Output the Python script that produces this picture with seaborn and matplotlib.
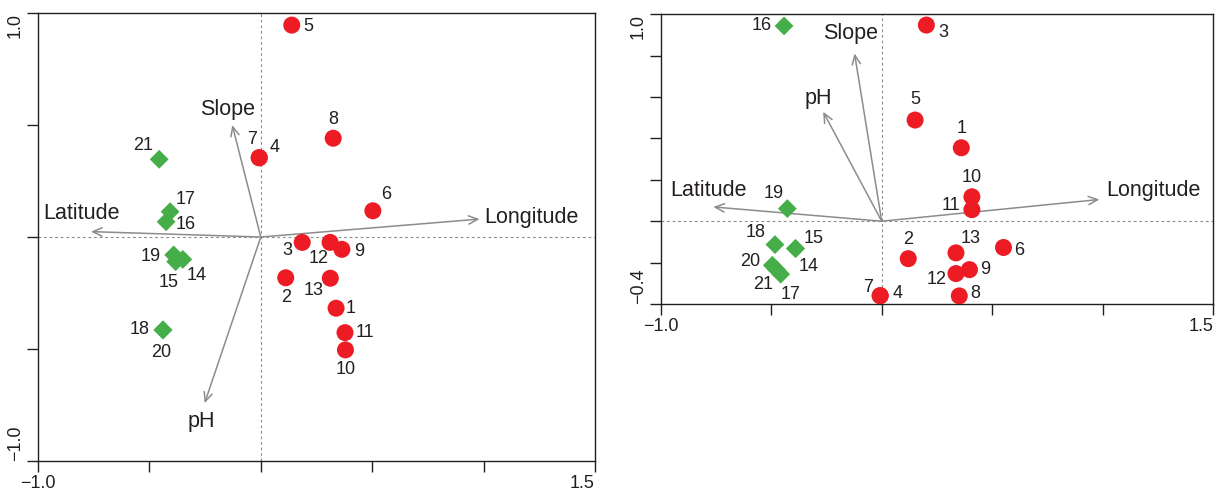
import numpy as np
import pandas as pd
import matplotlib.pyplot as plt
import seaborn as sns

# sites 1-13 -> first group (red circles), 14-21 -> second group (green diamonds)
sites = list(range(1, 22))
groups = ['A'] * 13 + ['B'] * 8

# left ordination: site scores
left_x = [0.338, 0.112, 0.186, -0.007, 0.139, 0.503, -0.007, 0.325, 0.364, 0.380,
          0.378, 0.311, 0.312, -0.350, -0.382, -0.425, -0.407, -0.439, -0.391, -0.439,
          -0.456]
left_y = [-0.318, -0.182, -0.024, 0.354, 0.946, 0.117, 0.354, 0.441, -0.055, -0.504,
          -0.427, -0.024, -0.184, -0.100, -0.110, 0.068, 0.113, -0.415, -0.080, -0.415,
          0.347]
# left ordination: environmental vectors
left_vars = ['Slope', 'Latitude', 'Longitude', 'pH']
left_vx = [-0.128, -0.762, 0.982, -0.252]
left_vy = [0.500, 0.024, 0.080, -0.742]

# right ordination: site scores
right_x = [0.360, 0.120, 0.202, -0.007, 0.151, 0.551, -0.007, 0.351, 0.397, 0.408,
           0.408, 0.336, 0.336, -0.390, -0.390, -0.442, -0.457, -0.483, -0.427, -0.495,
           -0.476]
right_y = [0.355, -0.181, 0.948, -0.360, 0.489, -0.127, -0.360, -0.361, -0.234, 0.118,
           0.056, -0.253, -0.153, -0.132, -0.132, 0.944, -0.256, -0.113, 0.061, -0.213,
           -0.234]
# right ordination: environmental vectors
right_vars = ['Slope', 'pH', 'Latitude', 'Longitude']
right_vx = [-0.123, -0.265, -0.762, 0.985]
right_vy = [0.811, 0.529, 0.069, 0.105]

# where the site numbers sit relative to the marker (pixels)
left_lab_off = {1: (15, 0), 2: (0, -20), 3: (-15, -8), 4: (15, 10), 5: (17, -1),
                6: (13, 16), 7: (-7, 18), 8: (0, 19), 9: (17, -2), 10: (0, -20),
                11: (20, 0), 12: (-11, -16), 13: (-17, -12), 14: (14, -16),
                15: (-7, -21), 16: (20, -3), 17: (15, 12), 18: (-23, 0), 19: (-23, -2),
                20: (-2, -23), 21: (-16, 14)}
right_lab_off = {1: (0, 19), 2: (0, 19), 3: (17, -7), 4: (17, 2), 5: (0, 21),
                 6: (16, -3), 7: (-12, 8), 8: (16, 2), 9: (16, 0), 10: (0, 19),
                 11: (-21, 4), 12: (-19, -6), 13: (15, 14), 14: (13, -18),
                 15: (18, 10), 16: (-22, 0), 17: (10, -20), 18: (-19, 12),
                 19: (-14, 15), 20: (-22, 4), 21: (-13, -15)}
left_var_off = {'Slope': (-5, 16), 'Latitude': (-9, 18), 'Longitude': (5, 2), 'pH': (-3, -18)}
right_var_off = {'Slope': (-4, 20), 'pH': (-5, 13), 'Latitude': (-5, 16), 'Longitude': (7, 9)}

sns.set_theme(style='ticks')
plt.rcParams['font.family'] = ['Liberation Sans', 'DejaVu Sans']

RED = '#ED1C24'
GREEN = '#45AE49'
GREY = '#8C8C8C'
INK = '#231F20'
FS = 13


def draw_panel(ax, xs, ys, vnames, vx, vy, lab_off, var_off, ylim, yticks):
    df = pd.DataFrame({'site': sites, 'x': xs, 'y': ys, 'group': groups})

    ax.axhline(0, color=GREY, lw=0.8, ls=(0, (2.5, 2.5)), zorder=1)
    ax.axvline(0, color=GREY, lw=0.8, ls=(0, (2.5, 2.5)), zorder=1)

    for name, ex, ey in zip(vnames, vx, vy):
        ax.annotate('', xy=(ex, ey), xytext=(0, 0),
                    arrowprops=dict(arrowstyle='->,head_length=0.55,head_width=0.25',
                                    color=GREY, lw=1.1, shrinkA=0, shrinkB=0),
                    zorder=2)
        dx, dy = var_off[name]
        ax.annotate(name, xy=(ex, ey), xytext=(dx, dy), textcoords='offset pixels',
                    ha='left' if name == 'Longitude' else 'center', va='center',
                    fontsize=15.5, color=INK)

    sns.scatterplot(data=df, x='x', y='y', hue='group', style='group', size='group',
                    palette={'A': RED, 'B': GREEN}, markers={'A': 'o', 'B': 'D'},
                    sizes={'A': 150, 'B': 92}, linewidth=0, alpha=1,
                    legend=False, ax=ax, zorder=3)

    for s, x, y in zip(sites, xs, ys):
        dx, dy = lab_off[s]
        ax.annotate(str(s), xy=(x, y), xytext=(dx, dy), textcoords='offset pixels',
                    ha='center', va='center', fontsize=FS, color=INK)

    ax.set_xlim(-1.0, 1.5)
    ax.set_ylim(*ylim)
    xt = [-1.0, -0.5, 0.0, 0.5, 1.0, 1.5]
    ax.set_xticks(xt, ['\u22121.0'] + [''] * 4 + ['1.5'])
    ylabs = [''] * len(yticks)
    ylabs[0] = f'{yticks[0]:.1f}'.replace('-', '\u2212')
    ylabs[-1] = f'{yticks[-1]:.1f}'.replace('-', '\u2212')
    ax.set_yticks(yticks, ylabs)
    ax.tick_params(axis='both', direction='out', length=8, width=1, color=INK,
                   labelsize=FS, labelcolor=INK, pad=2)
    ax.get_xticklabels()[-1].set_ha('right')
    for lbl in ax.get_yticklabels():
        lbl.set_rotation(90)
    ax.get_yticklabels()[0].set_va('bottom')
    ax.get_yticklabels()[-1].set_va('top')
    ax.set_xlabel('')
    ax.set_ylabel('')
    for sp in ax.spines.values():
        sp.set_visible(True)
        sp.set_color(INK)
        sp.set_linewidth(1.0)


fig = plt.figure(figsize=(12.17, 4.95), dpi=100)
ax1 = fig.add_axes([0.0312, 0.0687, 0.4577, 0.905])
ax2 = fig.add_axes([0.5429, 0.3859, 0.4540, 0.5852])

draw_panel(ax1, left_x, left_y, left_vars, left_vx, left_vy, left_lab_off, left_var_off,
           (-1.0, 1.0), [-1.0, -0.5, 0.0, 0.5, 1.0])
draw_panel(ax2, right_x, right_y, right_vars, right_vx, right_vy, right_lab_off,
           right_var_off, (-0.4, 1.0), list(np.round(np.arange(-0.4, 1.01, 0.2), 1)))

fig.savefig('out.png', dpi=100)
plt.close()
